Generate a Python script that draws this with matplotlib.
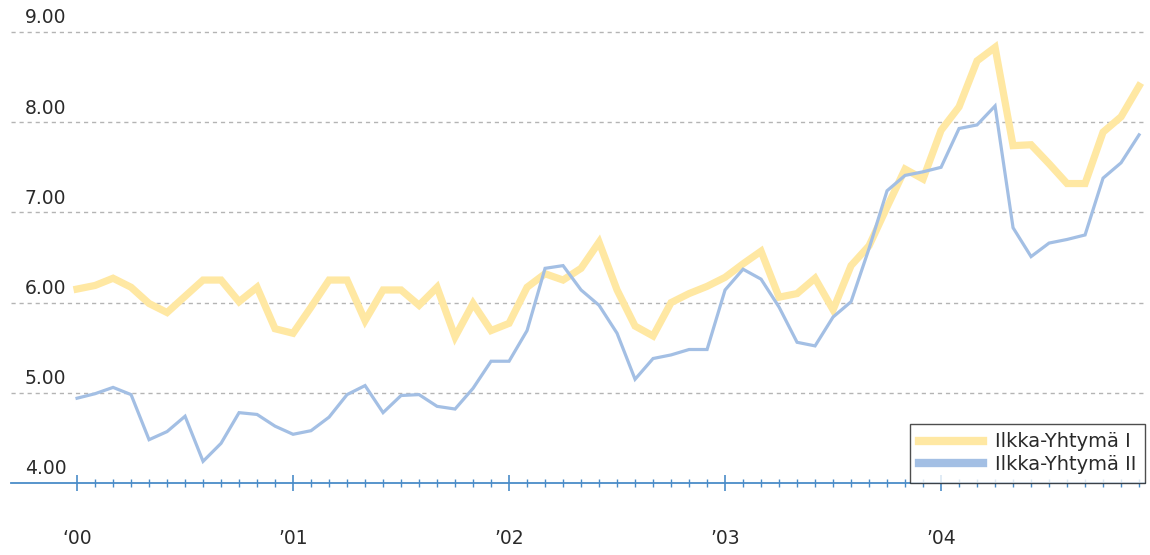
import matplotlib
matplotlib.use("Agg")
import matplotlib.pyplot as plt
import matplotlib.transforms as mtransforms
from matplotlib.patches import Circle

# monthly prices, Jan 2000 .. Dec 2004
ilkka_1 = [6.15, 6.19, 6.27, 6.17, 5.99, 5.89, 6.07, 6.25, 6.25, 6.01, 6.17, 5.71,
           5.66, 5.95, 6.25, 6.25, 5.80, 6.14, 6.14, 5.97, 6.17, 5.62, 5.99, 5.69,
           5.77, 6.17, 6.32, 6.25, 6.38, 6.67, 6.14, 5.74, 5.63, 6.00, 6.10, 6.18,
           6.28, 6.43, 6.57, 6.06, 6.10, 6.27, 5.92, 6.41, 6.63, 7.06, 7.48, 7.37,
           7.91, 8.17, 8.68, 8.83, 7.74, 7.75, 7.54, 7.32, 7.32, 7.89, 8.06, 8.40]
ilkka_2 = [4.94, 4.99, 5.06, 4.98, 4.48, 4.57, 4.74, 4.24, 4.44, 4.78, 4.76, 4.63,
           4.54, 4.58, 4.73, 4.98, 5.08, 4.78, 4.97, 4.98, 4.85, 4.82, 5.05, 5.35,
           5.35, 5.69, 6.38, 6.41, 6.14, 5.97, 5.66, 5.15, 5.38, 5.42, 5.48, 5.48,
           6.14, 6.37, 6.26, 5.95, 5.56, 5.52, 5.84, 6.01, 6.60, 7.24, 7.41, 7.45,
           7.50, 7.93, 7.97, 8.18, 6.83, 6.51, 6.66, 6.70, 6.75, 7.38, 7.55, 7.86]
series_names = ["Ilkka-Yhtymä I", "Ilkka-Yhtymä II"]
year_labels = ["\u201800", "\u201901", "\u201902", "\u201903", "\u201904"]
y_ticks = [4, 5, 6, 7, 8, 9]

months = list(range(len(ilkka_1)))

W, H = 1150, 555
fig = plt.figure(figsize=(W / 100, H / 100), dpi=100)
fig.patch.set_facecolor("white")

# faint arc in the top-left corner
fig.patches.append(Circle((-227.5 / W, 1 + 500 / H), 555.7 / W, transform=fig.transFigure,
                          facecolor="#eef2f8", edgecolor="none", zorder=0))

ax = fig.add_axes([11 / W, (H - 483) / H, (1145 - 11) / W, (483 - 14) / H])
ax.set_facecolor("none")
ax.set_xlim(-3.67, 59.33)
ax.set_ylim(4.0, 4.0 + 469 / 90.2)

for s in ["top", "right", "left"]:
    ax.spines[s].set_visible(False)
ax.spines["bottom"].set_color("#4a8cc8")
ax.spines["bottom"].set_linewidth(1.3)

# dashed grid
for v in y_ticks[1:]:
    ax.axhline(v, color="#b4b4b4", lw=1.0, ls=(0, (3, 2.8)), zorder=1)

ax.plot(months, ilkka_1, color="#ffe8a3", lw=5.2, solid_joinstyle="miter",
        label=series_names[0], zorder=2)
ax.plot(months, ilkka_2, color="#a3bfe4", lw=2.3, solid_joinstyle="miter",
        label=series_names[1], zorder=3)

# y labels sit above the gridlines
trans = mtransforms.blended_transform_factory(ax.transAxes, ax.transData)
for v in y_ticks:
    ax.text(14 / 1134, v + 0.05, "%.2f" % v, transform=trans, ha="left", va="bottom",
            fontsize=13.5, color="#2a2a2a")
ax.set_yticks([])

ax.set_xticks(range(0, 60, 12))
ax.set_xticklabels(year_labels, fontsize=13.5, color="#2a2a2a")
ax.set_xticks(range(0, 60), minor=True)
ax.tick_params(axis="x", which="major", direction="inout", length=12, width=1.2,
               color="#4a8cc8", pad=27)
ax.tick_params(axis="x", which="minor", direction="inout", length=6, width=1.0,
               color="#4a8cc8")

leg = ax.legend(loc="lower right", bbox_to_anchor=(1.0, 0.0), borderaxespad=0.0,
                fontsize=14, frameon=True, fancybox=False, handlelength=3.3,
                handletextpad=0.6, borderpad=0.45, labelspacing=0.2)
leg.get_frame().set_edgecolor("#222222")
leg.get_frame().set_linewidth(1.0)
for line in leg.get_lines():
    line.set_linewidth(6)
for t in leg.get_texts():
    t.set_color("#2a2a2a")

fig.savefig("out.png", dpi=100, facecolor="white")
